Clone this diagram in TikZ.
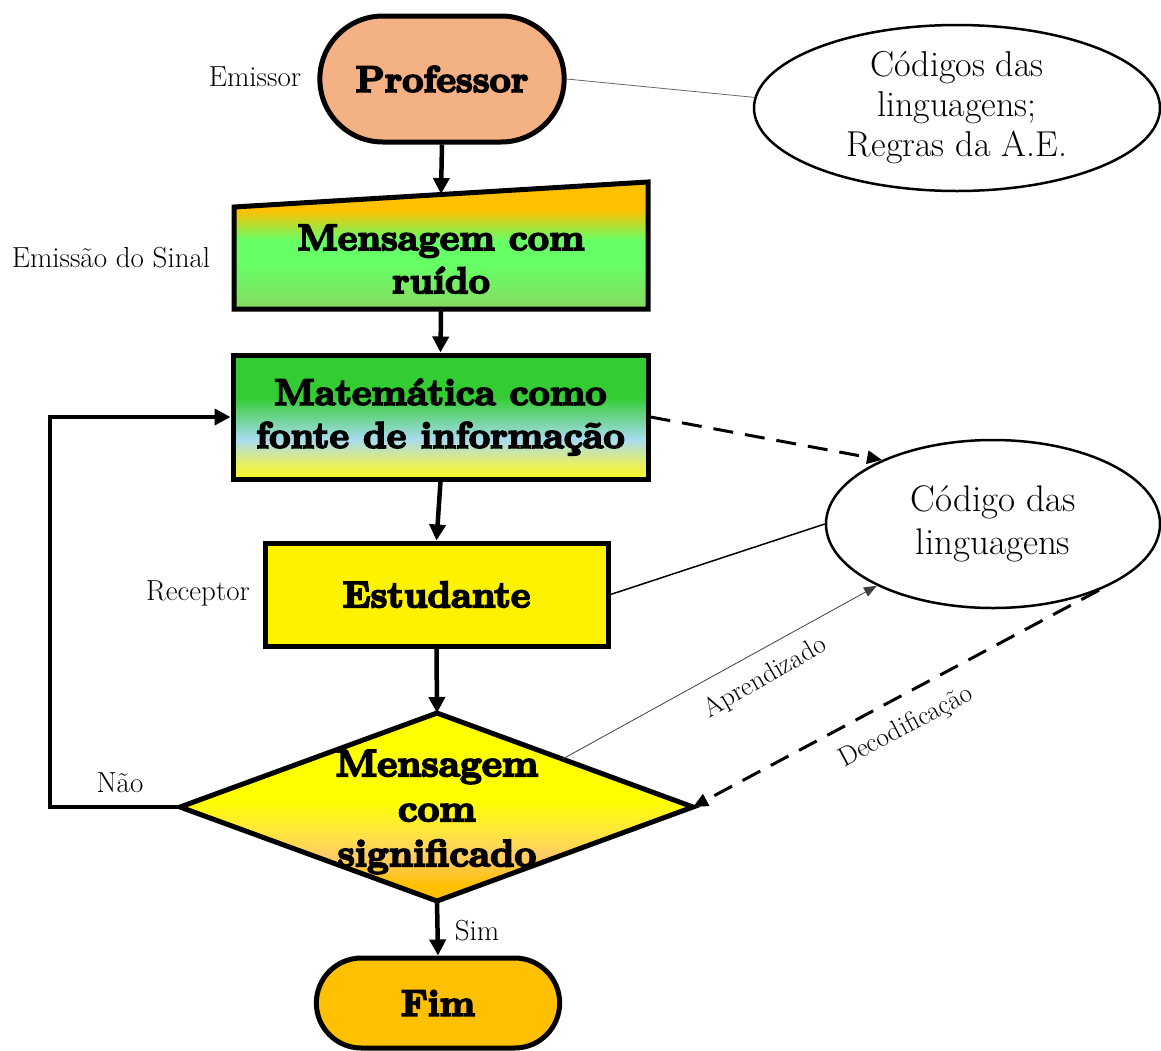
\documentclass[tikz,border=0pt]{standalone}
\usepackage{fontspec}
\newfontfamily\blk{lmroman10-bold.otf}[FakeBold=5]
\usetikzlibrary{shapes.geometric,shapes.misc,arrows.meta,calc}
\definecolor{profcol}{HTML}{F4B183}
\definecolor{tA}{HTML}{FFC000}
\definecolor{tB}{HTML}{66FF66}
\definecolor{tC}{HTML}{88D860}
\definecolor{mA}{HTML}{33CC33}
\definecolor{mB}{HTML}{A8DCF0}
\definecolor{mC}{HTML}{E8F060}
\definecolor{mD}{HTML}{F8F820}
\definecolor{dA}{HTML}{FFFF00}
\definecolor{dB}{HTML}{FFE83A}
\definecolor{dC}{HTML}{FFCC66}
\definecolor{dD}{HTML}{FFC000}
\pgfdeclareverticalshading{trapshade}{100bp}{color(0bp)=(tC); color(25bp)=(tC); color(42bp)=(tB); color(52bp)=(tB); color(64bp)=(tA); color(75bp)=(tA); color(100bp)=(tA)}
\pgfdeclareverticalshading{matshade}{100bp}{color(0bp)=(mD); color(25bp)=(mD); color(31bp)=(mC); color(41bp)=(mB); color(58bp)=(mA); color(75bp)=(mA); color(100bp)=(mA)}
\pgfdeclareverticalshading{diashade}{100bp}{color(0bp)=(dD); color(25bp)=(dD); color(29bp)=(dD); color(37bp)=(dC); color(44bp)=(dB); color(52bp)=(dA); color(75bp)=(dA); color(100bp)=(dA)}
\begin{document}
\begin{tikzpicture}[x=1pt,y=-1pt,
  bigtxt/.style={font={\blk\fontsize{37}{43}\selectfont}, align=center},
  lbl/.style={font={\fontsize{29}{34}\selectfont}},
  elltxt/.style={font={\fontsize{36}{40}\selectfont}, align=center},
  box/.style={draw, line width=5pt},
  flow/.style={line width=4.5pt, -{Triangle[length=16pt,width=16pt]}},
  dashflow/.style={line width=3pt, dash pattern=on 20pt off 12pt, -{Triangle[length=15pt,width=13pt]}},
  oval/.style={draw, ellipse, line width=2.5pt, inner sep=0pt}
]
\useasboundingbox (0,0) rectangle (1161,1050);

% Professor
\node[box, rounded rectangle, fill=profcol, minimum width=251pt, minimum height=126pt, bigtxt] (prof) at (442,79) {Professor};

% Ellipse 1
\node[oval, minimum width=406pt, minimum height=166pt, elltxt] (ell1) at (957,108) {Códigos das\\linguagens;\\Regras da A.E.};

% Trapezoid
\coordinate (tTL) at (234,207);
\coordinate (tTR) at (648,182);
\coordinate (tBR) at (648,309);
\coordinate (tBL) at (234,309);
\path[draw, line width=5pt, shading=trapshade] (tTL) -- (tTR) -- (tBR) -- (tBL) -- cycle;
\coordinate (traptop) at (441,194);
\coordinate (trapbot) at (441,311);
\node[bigtxt] (trap) at (441,259) {Mensagem com\\ruído};

% Matematica
\node[box, shading=matshade, minimum width=415pt, minimum height=124pt, bigtxt] (mat) at (440.5,417) {Matemática como\\fonte de informação};

% Estudante
\node[box, fill=yellow, minimum width=343pt, minimum height=103pt, bigtxt] (est) at (436.5,594.5) {Estudante};

% Diamond
\coordinate (dT) at (437,713);
\coordinate (dR) at (693,807);
\coordinate (dB) at (437,901);
\coordinate (dL) at (180,807);
\path[draw, line width=5pt, shading=diashade] (dT) -- (dR) -- (dB) -- (dL) -- cycle;
\node[bigtxt, font={\blk\fontsize{38}{45}\selectfont}] (dia) at (437,812) {Mensagem\\com\\significado};

% Ellipse 2
\node[oval, minimum width=334pt, minimum height=168pt, elltxt, font={\fontsize{37}{43}\selectfont}] (ell2) at (993,524) {Código das\\linguagens};

% Fim
\node[box, rounded rectangle, fill=dD, minimum width=250pt, minimum height=90pt, bigtxt] (fim) at (438,1003) {Fim};

% Labels
\node[lbl] (emissor) at (255,77) {Emissor};
\node[lbl] (emsinal) at (111,258) {Emissão do Sinal};
\node[lbl] (receptor) at (198,593) {Receptor};
\node[lbl] (nao) at (120,783) {Não};
\node[lbl] (sim) at (477,931) {Sim};
\node[lbl, font={\fontsize{27}{32}\selectfont}, rotate=30] (aprend) at (765,678) {Aprendizado};
\node[lbl, font={\fontsize{27}{32}\selectfont}, rotate=28] (decod) at (906,727) {Decodificação};

% Connectors
\draw[line width=0.8pt, black!60] (prof.east) -- (ell1.177);
\draw[flow] (prof.south) -- (traptop);
\draw[flow] (trapbot) -- (mat.north);
\draw[flow] (mat.south) -- (est.north);
\draw[flow] (est.south) -- (dT);
\draw[flow] (dB) -- (fim.north);
\draw[line width=4.5pt, -{Triangle[length=16pt,width=16pt]}] (dL) -- ++(-130,0) |- (mat.west);
\draw[dashflow] (mat.east) -- (ell2.150);
\draw[line width=1.5pt] (est.east) -- (ell2.west);
\coordinate (aprstart) at ($(dT)!0.49!(dR)$);
\draw[line width=0.8pt, black!75, -{Triangle[length=13pt,width=10pt]}] (aprstart) -- (ell2.208);
\draw[dashflow] (ell2.-32) -- (dR);
\end{tikzpicture}
\end{document}
